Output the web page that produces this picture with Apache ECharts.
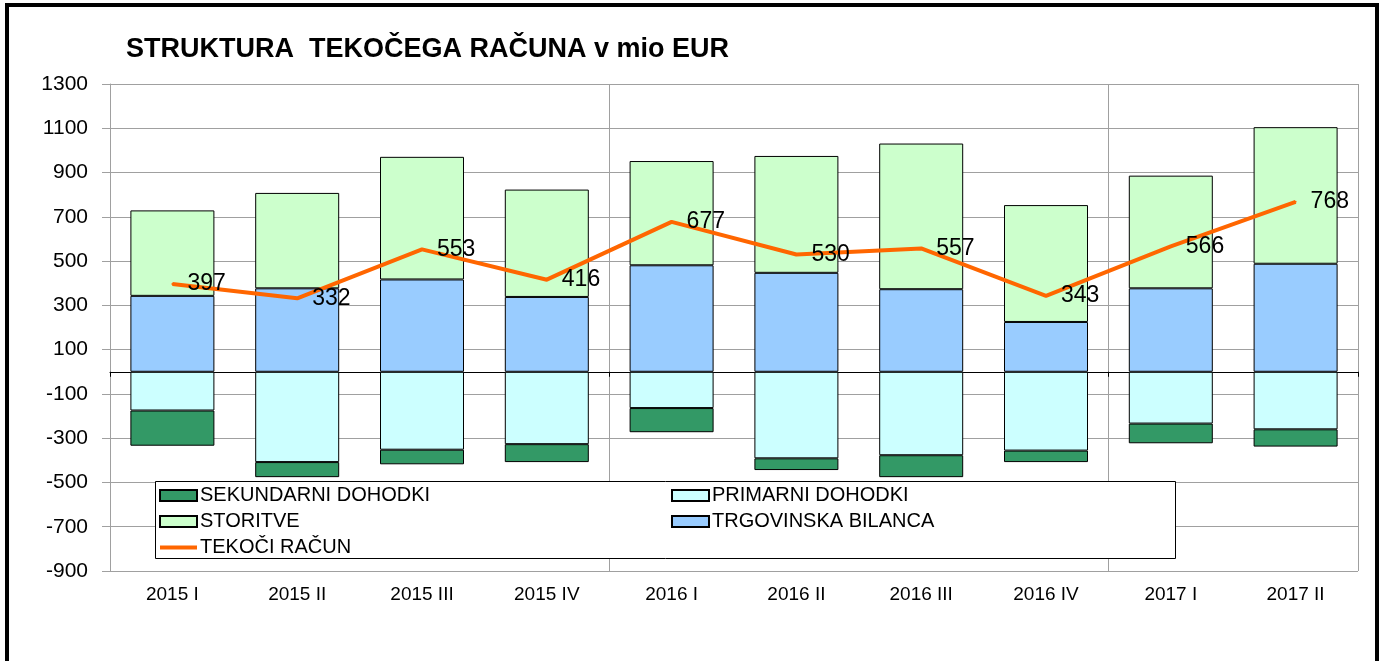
<!DOCTYPE html>
<html>
<head>
<meta charset="utf-8">
<title>Struktura tekočega računa</title>
<script src="https://cdn.jsdelivr.net/npm/echarts@6/dist/echarts.min.js"></script>
<style>
  html, body { margin: 0; padding: 0; background: #fff; }
  #frame {
    position: absolute; left: 5px; top: 3px;
    width: 1366px; height: 700px;
    border: 4px solid #000;
  }
  #chart { position: absolute; left: 0; top: 0; width: 1380px; height: 661px; }
</style>
</head>
<body>
<div id="frame"></div>
<div id="chart"></div>
<script>
// podatki (mio EUR)
const categories = ['2015 I', '2015 II', '2015 III', '2015 IV', '2016 I', '2016 II', '2016 III', '2016 IV', '2017 I', '2017 II'];
const trgovinska = [343, 377, 417, 338, 481, 447, 373, 225, 377, 488];
const storitve = [386, 431, 554, 485, 471, 528, 658, 528, 509, 617];
const primarni = [-175, -408, -352, -327, -164, -391, -377, -356, -234, -260];
const sekundarni = [-159, -68, -66, -81, -109, -53, -99, -52, -89, -78];
const tekoci = [397, 332, 553, 416, 677, 530, 557, 343, 566, 768];

const font = 'Liberation Sans, Arial, sans-serif';
const gridColor = '#a0a0a0';
const orange = '#ff6600';

const chart = echarts.init(document.getElementById('chart'));

const barSeries = (name, data, color) => ({
    name: name,
    type: 'bar',
    stack: 'tr',
    barWidth: 84,
    data: data,
    itemStyle: { color: color, borderColor: '#000', borderWidth: 1 },
    emphasis: { disabled: true }
});

// legenda - dva stolpca
const legendBase = {
    orient: 'vertical',
    top: 485,
    padding: 0,
    icon: 'rect',
    itemWidth: 37,
    itemHeight: 11,
    itemGap: 5,
    z: 4,
    textStyle: { fontFamily: font, fontSize: 20, color: '#000', lineHeight: 21, padding: [0, 0, 0, -2] }
};

chart.setOption({
    animation: false,
    title: {
        text: 'STRUKTURA  TEKOČEGA RAČUNA v mio EUR',
        left: 126,
        top: 36,
        padding: 0,
        textStyle: { fontFamily: font, fontSize: 27, fontWeight: 'bold', color: '#000' }
    },
    grid: { left: 110, right: 22, top: 84, bottom: 90 },
    graphic: [{
        type: 'rect',
        left: 155,
        top: 481,
        z: 3,
        shape: { width: 1020, height: 77 },
        style: { fill: '#fff', stroke: '#000', lineWidth: 1 }
    }],
    legend: [
        Object.assign({}, legendBase, {
            left: 159,
            data: [
                'SEKUNDARNI DOHODKI',
                'STORITVE',
                { name: 'TEKOČI RAČUN', icon: 'path://M0,0 L37,0 L37,4 L0,4 Z', itemStyle: { color: orange, borderWidth: 0 } }
            ]
        }),
        Object.assign({}, legendBase, {
            left: 671,
            data: ['PRIMARNI DOHODKI', 'TRGOVINSKA BILANCA']
        })
    ],
    xAxis: [{
        type: 'category',
        data: categories,
        position: 'bottom',
        axisLine: { onZero: true, lineStyle: { color: '#000', width: 1 } },
        axisTick: { show: true, interval: 3, length: 5, lineStyle: { color: '#000' } },
        axisLabel: { show: false },
        splitLine: { show: true, interval: 3, lineStyle: { color: gridColor, width: 1 } }
    }, {
        type: 'category',
        data: categories,
        position: 'bottom',
        axisLine: { show: false, onZero: false },
        axisTick: { show: false },
        axisLabel: { margin: 14, fontFamily: font, fontSize: 19, color: '#000' },
        splitLine: { show: false }
    }],
    yAxis: {
        type: 'value',
        min: -900,
        max: 1300,
        interval: 200,
        axisLine: { show: true, lineStyle: { color: gridColor } },
        axisTick: { show: true, length: 8, lineStyle: { color: gridColor } },
        axisLabel: {
            margin: 22,
            fontFamily: font,
            fontSize: 21,
            color: '#000',
            formatter: (v) => String(v)
        },
        splitLine: { lineStyle: { color: gridColor, width: 1 } }
    },
    series: [
        barSeries('TRGOVINSKA BILANCA', trgovinska, '#99ccff'),
        barSeries('STORITVE', storitve, '#ccffcc'),
        barSeries('PRIMARNI DOHODKI', primarni, '#ccffff'),
        barSeries('SEKUNDARNI DOHODKI', sekundarni, '#339966'),
        {
            name: 'TEKOČI RAČUN',
            type: 'line',
            data: tekoci,
            symbol: 'circle',
            symbolSize: 2,
            showSymbol: true,
            z: 5,
            lineStyle: { color: orange, width: 4 },
            itemStyle: { color: orange },
            label: {
                show: true,
                position: 'right',
                distance: 14,
                fontFamily: font,
                fontSize: 23,
                color: '#000'
            },
            emphasis: { disabled: true }
        }
    ]
});

window.onresize = () => {
    chart.resize();
};
</script>
</body>
</html>
